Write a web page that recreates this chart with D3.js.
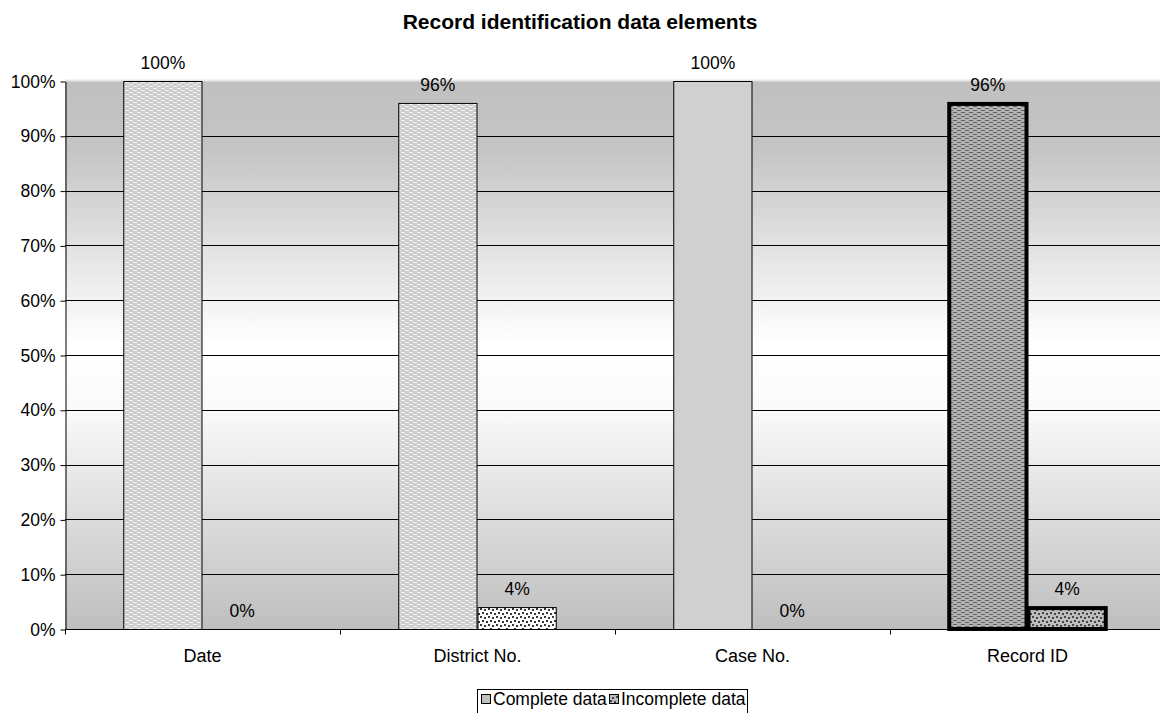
<!DOCTYPE html>
<html>
<head>
<meta charset="utf-8">
<script src="https://cdn.jsdelivr.net/npm/d3@7"></script>
<style>
  body { margin: 0; background: #fff; }
  svg { display: block; font-family: "Liberation Sans", Arial, sans-serif; }
</style>
</head>
<body>
<svg id="chart" width="1160" height="713"></svg>
<script>
const title = "Record identification data elements";
const categories = ["Date", "District No.", "Case No.", "Record ID"];
const completeValues = [100, 96, 100, 96];
const incompleteValues = [0, 4, 0, 4];
const seriesNames = ["Complete data", "Incomplete data"];
const yTicks = [0, 10, 20, 30, 40, 50, 60, 70, 80, 90, 100];

const svg = d3.select("#chart");
const x0 = 65, x1 = 1165, yTop = 81, yBot = 629;

const defs = svg.append("defs");
const g = defs.append("linearGradient").attr("id", "bg").attr("x1", 0).attr("y1", 0).attr("x2", 0).attr("y2", 1);
g.append("stop").attr("offset", "0%").attr("stop-color", "#c0c0c0");
g.append("stop").attr("offset", "12%").attr("stop-color", "#c4c4c4");
g.append("stop").attr("offset", "48%").attr("stop-color", "#ffffff");
g.append("stop").attr("offset", "60%").attr("stop-color", "#fafafa");
g.append("stop").attr("offset", "100%").attr("stop-color", "#bebebe");

function dashPattern(id, base, dash) {
  const p = defs.append("pattern").attr("id", id).attr("patternUnits", "userSpaceOnUse")
    .attr("width", 8).attr("height", 4);
  p.append("rect").attr("width", 8).attr("height", 4).attr("fill", base);
  p.append("rect").attr("x", 1).attr("y", 0).attr("width", 4).attr("height", 1).attr("fill", dash);
  p.append("rect").attr("x", 5).attr("y", 2).attr("width", 4).attr("height", 1).attr("fill", dash);
  p.append("rect").attr("x", -3).attr("y", 2).attr("width", 4).attr("height", 1).attr("fill", dash);
}
dashPattern("lightDash", "#cccccc", "#f4f4f4");
dashPattern("darkDash", "#b4b4b4", "#5e5e5e");

function dotPattern(id, base, dot) {
  const p = defs.append("pattern").attr("id", id).attr("patternUnits", "userSpaceOnUse")
    .attr("width", 8).attr("height", 8);
  p.append("rect").attr("width", 8).attr("height", 8).attr("fill", base);
  [[0, 0], [4, 1], [2, 4], [6, 5]].forEach(([a, b]) =>
    p.append("rect").attr("x", a).attr("y", b).attr("width", 2).attr("height", 2).attr("fill", dot));
}
dotPattern("whiteDots", "#ffffff", "#3a3a3a");
dotPattern("grayDots", "#bdbdbd", "#454545");

svg.append("text").attr("x", 580).attr("y", 29).attr("text-anchor", "middle")
  .attr("font-size", 21).attr("font-weight", "bold").text(title);

const x = d3.scaleBand().domain(categories).range([x0, x1]).paddingInner(0).paddingOuter(0);
const y = d3.scaleLinear().domain([0, 100]).range([yBot, yTop]);

svg.append("rect").attr("x", x0).attr("y", yTop).attr("width", x1 - x0).attr("height", yBot - yTop)
  .attr("fill", "url(#bg)");
svg.append("line").attr("x1", x0).attr("x2", x1).attr("y1", yTop - 0.5).attr("y2", yTop - 0.5)
  .attr("stroke", "#e6e6e6").attr("stroke-width", 2);

svg.append("g").selectAll("line").data(yTicks.filter(d => d > 0 && d < 100)).join("line")
  .attr("x1", x0).attr("x2", x1).attr("y1", d => Math.round(y(d)) + 0.5).attr("y2", d => Math.round(y(d)) + 0.5)
  .attr("stroke", "#000").attr("stroke-width", 1);

const yAxis = d3.axisLeft(y).tickValues(yTicks).tickFormat(d => d + "%").tickSize(5).tickSizeOuter(0);
const ya = svg.append("g").attr("transform", `translate(${x0 + 0.5},0.5)`).call(yAxis);
ya.select(".domain").attr("stroke", "#000");
ya.selectAll("text").attr("font-size", 17.5).attr("fill", "#000")
  .attr("font-family", "Liberation Sans, Arial, sans-serif").attr("dx", -2);

const xa = svg.append("g").attr("transform", `translate(0,${yBot + 0.5})`);
xa.append("line").attr("x1", x0).attr("x2", x1).attr("stroke", "#000");
xa.selectAll("line.tk").data(categories).join("line").attr("class", "tk")
  .attr("x1", d => x(d) + 0.5).attr("x2", d => x(d) + 0.5).attr("y1", 0).attr("y2", 5).attr("stroke", "#000");
xa.selectAll("text").data(categories).join("text")
  .attr("x", d => x(d) + x.bandwidth() / 2).attr("y", 32).attr("text-anchor", "middle")
  .attr("font-size", 18).text(d => d);

const inner = d3.scaleBand().domain([0, 1]).range([0, x.bandwidth()]).paddingOuter(0.735).paddingInner(0);

const completeFill = ["url(#lightDash)", "url(#lightDash)", "#d0d0d0", "url(#darkDash)"];
const incompleteFill = ["url(#whiteDots)", "url(#whiteDots)", "url(#whiteDots)", "url(#grayDots)"];
const strokeW = [1, 1, 1, 4];

const bars = [];
categories.forEach((c, i) => {
  bars.push({ c, s: 0, v: completeValues[i], fill: completeFill[i], sw: strokeW[i] });
  bars.push({ c, s: 1, v: incompleteValues[i], fill: incompleteFill[i], sw: strokeW[i] });
});

svg.append("g").selectAll("rect").data(bars.filter(b => b.v > 0)).join("rect")
  .attr("x", b => x(b.c) + inner(b.s) + (b.sw > 1 ? 1 : 0.5))
  .attr("y", b => y(b.v) + (b.sw > 1 ? 1 : 0.5))
  .attr("width", b => inner.bandwidth() - (b.sw > 1 ? 2 : 1))
  .attr("height", b => y(0) - y(b.v) - (b.sw > 1 ? 1 : 0))
  .attr("fill", b => b.fill).attr("stroke", "#000").attr("stroke-width", b => b.sw);

svg.append("g").selectAll("text").data(bars).join("text")
  .attr("x", b => x(b.c) + inner(b.s) + inner.bandwidth() / 2)
  .attr("y", b => y(b.v) - 12).attr("text-anchor", "middle").attr("font-size", 17.5)
  .text(b => b.v + "%");

const lg = svg.append("g");
lg.append("rect").attr("x", 477.5).attr("y", 689.5).attr("width", 270).attr("height", 24)
  .attr("fill", "#fff").attr("stroke", "#000");
const legendFills = ["#c0c0c0", "url(#grayDots)"];
const lx = [481, 609];
seriesNames.forEach((n, i) => {
  lg.append("rect").attr("x", lx[i] + 0.5).attr("y", 694.5).attr("width", 9).attr("height", 9)
    .attr("fill", legendFills[i]).attr("stroke", "#000");
  lg.append("text").attr("x", lx[i] + 12).attr("y", 705).attr("font-size", 17.5).text(n);
});
</script>
</body>
</html>
